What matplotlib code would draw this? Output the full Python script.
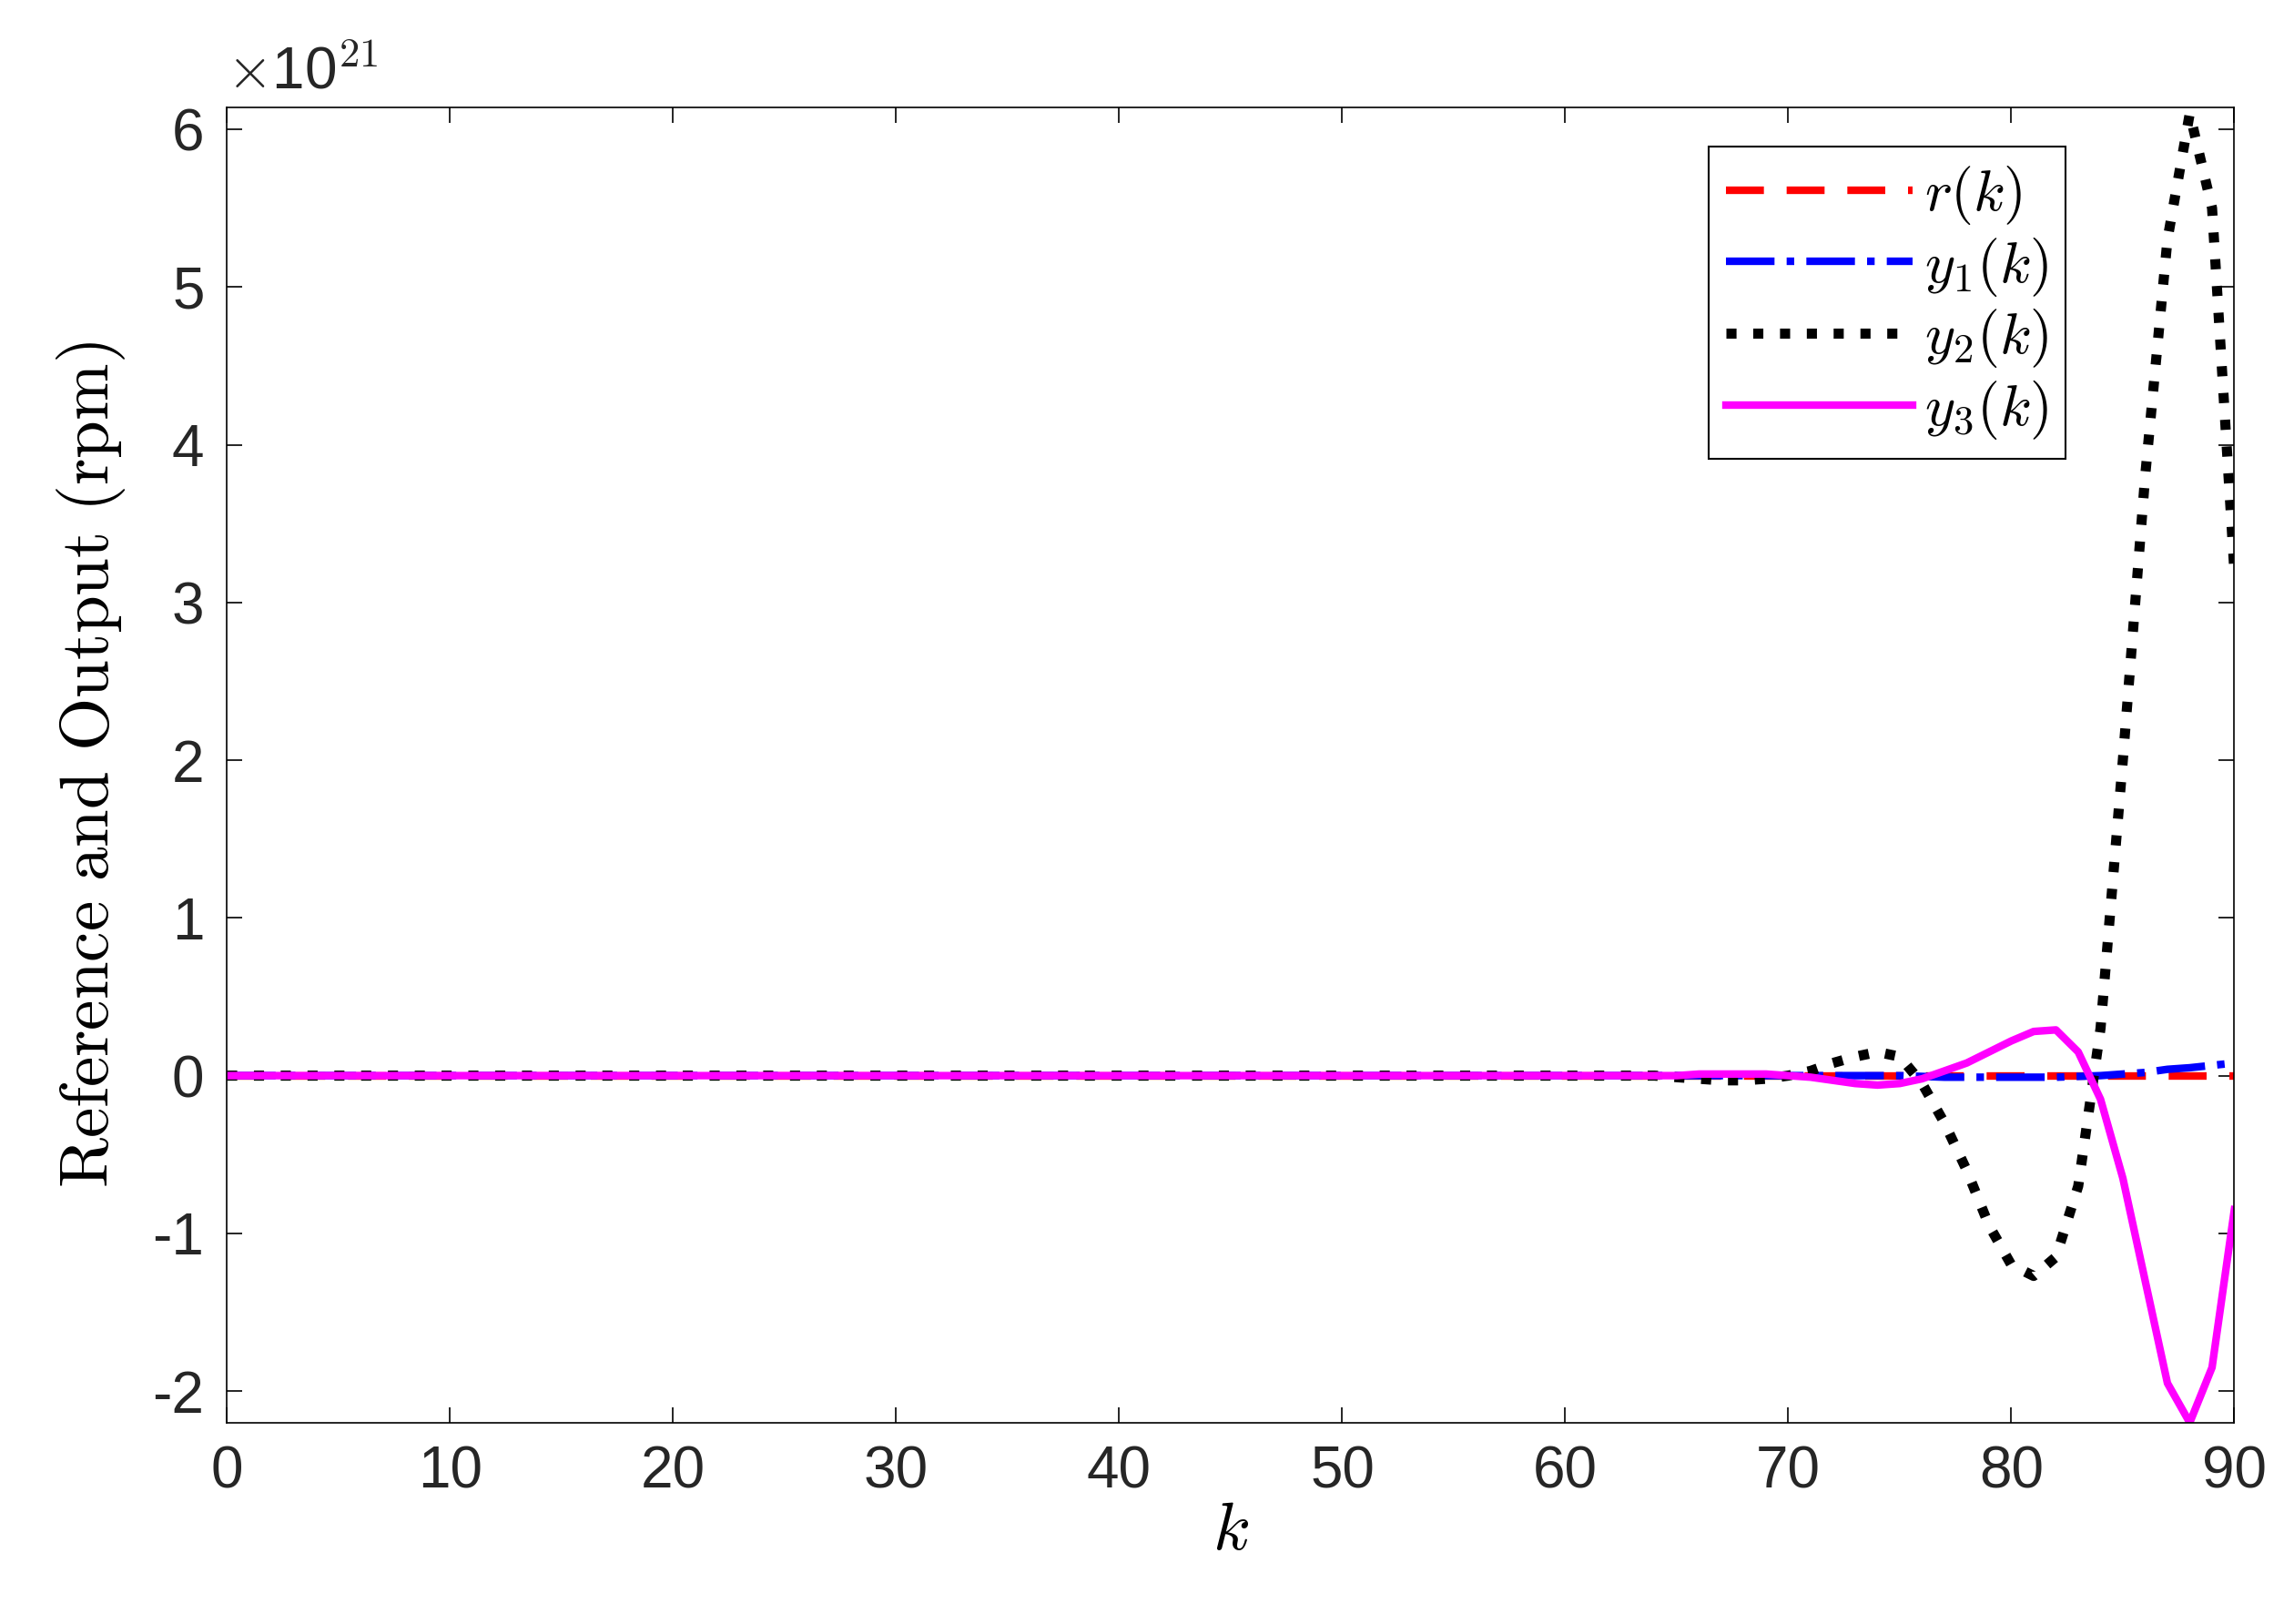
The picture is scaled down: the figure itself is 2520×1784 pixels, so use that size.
import numpy as np
import matplotlib
matplotlib.use("Agg")
import matplotlib.pyplot as plt

plt.rcParams['mathtext.fontset'] = 'cm'
plt.rcParams['font.family'] = ['Liberation Sans', 'DejaVu Sans']
plt.rcParams['axes.unicode_minus'] = False

k = np.arange(0, 91)
# values in units of 1e21, for k = 63..90 (zero before)
y2_tail = [0, 0, -0.01, -0.02, -0.03, -0.03, -0.02, 0.0, 0.03, 0.08, 0.12, 0.15, 0.12, -0.05,
           -0.3, -0.6, -0.95, -1.2, -1.27, -1.15, -0.7, 0.3, 2.0, 3.8, 5.3, 6.1, 5.5, 3.2]
y3_tail = [0, 0, 0.0, 0.01, 0.01, 0.01, 0.01, 0.0, -0.01, -0.03, -0.05, -0.06, -0.05, -0.02,
           0.03, 0.08, 0.15, 0.22, 0.28, 0.29, 0.15, -0.15, -0.65, -1.3, -1.95, -2.2, -1.85, -0.85]
y1_tail = [0, 0, 0, 0, 0, 0, 0, 0, 0, 0, 0, 0, 0, -0.005, -0.01, -0.01, -0.01, -0.01, -0.01,
           -0.01, -0.005, 0.0, 0.01, 0.02, 0.04, 0.05, 0.065, 0.08]
n0 = 91 - len(y2_tail)
y2 = np.array([0.0] * n0 + y2_tail)
y3 = np.array([0.0] * n0 + y3_tail)
y1 = np.array([0.0] * n0 + y1_tail)
r = np.zeros(91)

fig = plt.figure(figsize=(25.2, 17.84), dpi=100)
ax = fig.add_axes([0.099, 0.124, 0.875, 0.81])
lw = 6
ax.plot(k, r, color='red', ls=(0, (5, 3)), lw=lw, label=r'$r(k)$')
ax.plot(k, y1, color='blue', ls='-.', lw=lw, label=r'$y_1(k)$')
ax.plot(k, y2, color='black', ls=':', lw=lw + 2, label=r'$y_2(k)$')
ax.plot(k, y3, color='magenta', ls='-', lw=lw, label=r'$y_3(k)$')

ax.set_xlim(0, 90)
ax.set_ylim(-2.2, 6.14)
ax.set_xticks(np.arange(0, 91, 10))
ax.set_yticks(np.arange(-2, 7, 1))
ax.tick_params(labelsize=46, direction='in', length=12, width=1.2, top=True, right=True,
               labelcolor='#262626', pad=18)
ax.text(0.0, 1.005, r'$\times$10$^{21}$', transform=ax.transAxes, fontsize=46,
        color='#262626', ha='left', va='bottom')
for s in ax.spines.values():
    s.set_linewidth(1.2)
ax.set_xlabel(r'$k$', fontsize=54, labelpad=0)
ax.set_ylabel(r'$\mathrm{Reference\ and\ Output\ (rpm)}$', fontsize=54, labelpad=20)
leg = ax.legend(loc='upper right', bbox_to_anchor=(0.916, 0.97), fontsize=46, handlelength=3.2,
                handletextpad=0.2, fancybox=False, edgecolor='black', framealpha=1,
                borderpad=0.3, labelspacing=0.15, borderaxespad=0)
leg.get_frame().set_linewidth(1.5)
fig.savefig('out.png', dpi=100)
